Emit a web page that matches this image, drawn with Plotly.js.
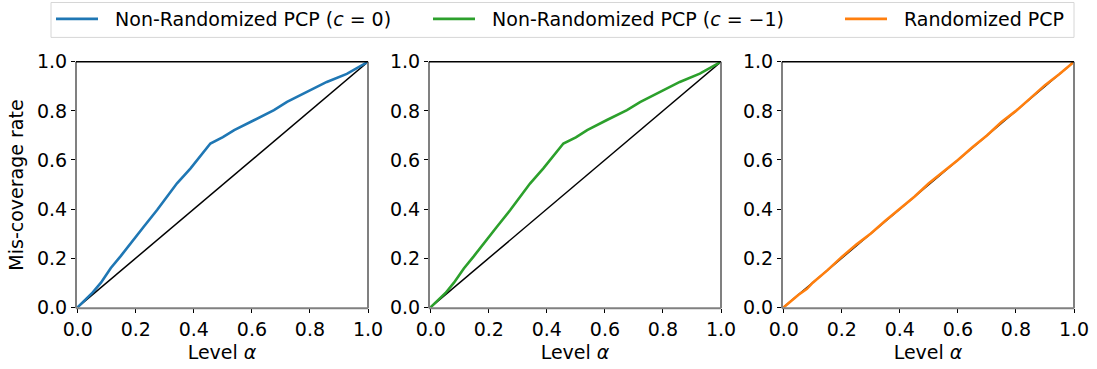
<!DOCTYPE html>
<html><head><meta charset="utf-8">
<script src="https://cdn.plot.ly/plotly-3.0.1.min.js"></script>
<style>body{margin:0;padding:0;background:#fff}#plot{width:1097px;height:369px}</style>
</head><body><div id="plot"></div>
<script>
// Level alpha grids and mis-coverage rates
const alphaNR = [0, 0.023, 0.051, 0.08, 0.114, 0.148, 0.183, 0.228, 0.274, 0.308, 0.342, 0.388, 0.428, 0.457, 0.50, 0.539, 0.607, 0.676, 0.721, 0.79, 0.858, 0.927, 1.0];
const missC0 = [0, 0.026, 0.059, 0.10, 0.16, 0.208, 0.262, 0.329, 0.397, 0.451, 0.505, 0.565, 0.626, 0.667, 0.693, 0.722, 0.762, 0.803, 0.837, 0.877, 0.918, 0.951, 1.0];
const missCm1 = [0, 0.025, 0.058, 0.10, 0.158, 0.207, 0.262, 0.328, 0.396, 0.452, 0.504, 0.566, 0.625, 0.667, 0.692, 0.722, 0.763, 0.803, 0.836, 0.878, 0.918, 0.952, 1.0];
const alphaR = [0, 0.05, 0.08, 0.10, 0.15, 0.20, 0.25, 0.30, 0.35, 0.40, 0.45, 0.50, 0.55, 0.60, 0.65, 0.70, 0.75, 0.80, 0.85, 0.90, 0.95, 1.0];
const missR = [0, 0.05, 0.075, 0.10, 0.15, 0.205, 0.255, 0.30, 0.352, 0.40, 0.45, 0.505, 0.552, 0.60, 0.652, 0.70, 0.755, 0.80, 0.852, 0.905, 0.95, 1.0];
const diag = [0, 1];
const yTicks = [0, 0.2, 0.4, 0.6, 0.8, 1.0];
const xTicks = [0, 0.2, 0.4, 0.6, 0.8, 1.0];
const tickText = ['0.0', '0.2', '0.4', '0.6', '0.8', '1.0'];

const names = ['Non-Randomized PCP (<i>c</i> = 0)', 'Non-Randomized PCP (<i>c</i> = \u22121)', 'Randomized PCP'];
const colors = ['#1f77b4', '#2ca02c', '#ff7f0e'];

const traces = [];
const sets = [[alphaNR, missC0], [alphaNR, missCm1], [alphaR, missR]];
const legIds = ['legend', 'legend2', 'legend3'];
for (let i = 0; i < 3; i++) {
  const sx = i === 0 ? 'x' : 'x' + (i + 1);
  const sy = i === 0 ? 'y' : 'y' + (i + 1);
  traces.push({x: diag, y: diag, xaxis: sx, yaxis: sy, mode: 'lines', line: {color: '#000', width: 1.5}, showlegend: false, hoverinfo: 'skip'});
  traces.push({x: sets[i][0], y: sets[i][1], xaxis: sx, yaxis: sy, mode: 'lines', name: '\u00a0\u00a0' + names[i], legend: legIds[i], line: {color: colors[i], width: 2.6}, showlegend: true});
}

const font = {family: 'DejaVu Sans, sans-serif', size: 19, color: '#000'};
const doms = [[76/1097, 368/1097], [429/1097, 721/1097], [782/1097, 1074/1097]];
const yd = [1 - 308/369, 1 - 61/369];
const legX = [51/1097, 428/1097, 840/1097];
const layout = {
  width: 1097, height: 369,
  margin: {l: 0, r: 0, t: 0, b: 0},
  paper_bgcolor: '#fff', plot_bgcolor: '#fff',
  font: font,
  showlegend: true,
  shapes: [{type: 'rect', xref: 'paper', yref: 'paper', x0: 51/1097, x1: 1074/1097, y0: 1 - 36.5/369, y1: 1 - 1.5/369, line: {color: '#d6d6d6', width: 1}, fillcolor: 'rgba(0,0,0,0)'}]
};
for (let i = 0; i < 3; i++) {
  layout[legIds[i]] = {orientation: 'h', x: legX[i], xanchor: 'left', y: 1 - 18.5/369, yanchor: 'middle',
    bgcolor: 'rgba(0,0,0,0)', borderwidth: 0, font: font, itemwidth: 42};
}
for (let i = 0; i < 3; i++) {
  const sfx = i === 0 ? '' : String(i + 1);
  layout['xaxis' + sfx] = {
    domain: doms[i], range: [-0.006, 1.0], anchor: 'y' + sfx,
    tickvals: xTicks, ticktext: tickText, ticks: 'outside', ticklen: 4, tickcolor: '#000',
    showgrid: false, zeroline: false, showline: false, automargin: false,
    tickfont: font, title: {text: 'Level <i>\u03b1</i>', font: font, standoff: 6}
  };
  layout['yaxis' + sfx] = {
    domain: yd, range: [-0.004, 1.0], anchor: 'x' + sfx,
    tickvals: yTicks, ticktext: tickText, ticks: 'outside', ticklen: 4, tickcolor: '#000',
    showgrid: false, zeroline: false, showline: false, automargin: false,
    tickfont: font, title: {text: i === 0 ? 'Mis-coverage rate' : '', font: font, standoff: 8}
  };
  const xr = 'x' + sfx + ' domain', yr = 'y' + sfx + ' domain';
  layout.shapes.push({type: 'line', xref: xr, yref: yr, x0: 0, x1: 0, y0: 0, y1: 1, line: {color: '#808080', width: 2}});
  layout.shapes.push({type: 'line', xref: xr, yref: yr, x0: 1, x1: 1, y0: 0, y1: 1, line: {color: '#808080', width: 2}});
  layout.shapes.push({type: 'line', xref: xr, yref: yr, x0: 0, x1: 1, y0: 0, y1: 0, line: {color: '#808080', width: 2}});
  layout.shapes.push({type: 'line', xref: xr, yref: yr, x0: 0, x1: 1, y0: 1, y1: 1, line: {color: '#000', width: 1.5}});
}
Plotly.newPlot('plot', traces, layout, {displayModeBar: false, staticPlot: true});
</script></body></html>
